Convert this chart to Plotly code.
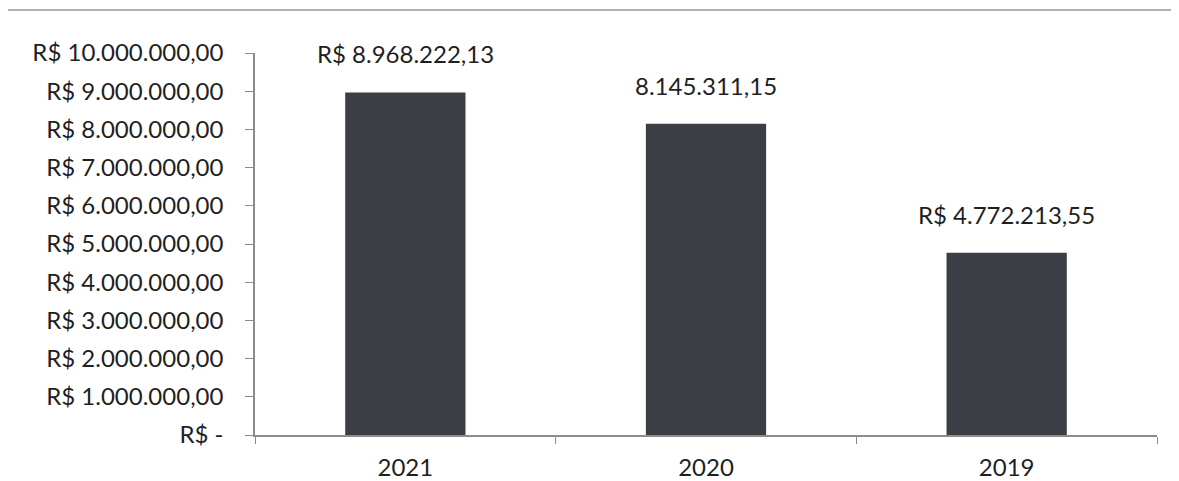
import plotly.graph_objects as go

anos = ["2021", "2020", "2019"]
valores = [8968222.13, 8145311.15, 4772213.55]
rotulos = ["R$ 8.968.222,13", "8.145.311,15", "R$ 4.772.213,55"]
tick_vals = [0, 1e6, 2e6, 3e6, 4e6, 5e6, 6e6, 7e6, 8e6, 9e6, 10e6]
tick_text = ["R$ -", "R$ 1.000.000,00", "R$ 2.000.000,00", "R$ 3.000.000,00",
             "R$ 4.000.000,00", "R$ 5.000.000,00", "R$ 6.000.000,00",
             "R$ 7.000.000,00", "R$ 8.000.000,00", "R$ 9.000.000,00",
             "R$ 10.000.000,00"]

FONT = "Lato"
TXT = "#1f1f1f"
SIZE = 24

fig = go.Figure(go.Bar(
    x=anos, y=valores,
    marker=dict(color="#3b3e45", line=dict(width=0)),
    width=0.4,
))

for i, (v, r) in enumerate(zip(valores, rotulos)):
    fig.add_annotation(x=i, y=v, xref="x", yref="y", text=r, showarrow=False,
                       yanchor="bottom", yshift=22,
                       font=dict(family=FONT, size=SIZE, color=TXT))

fig.update_layout(
    width=1179, height=481,
    margin=dict(l=247, r=30, t=45, b=54, autoexpand=False),
    paper_bgcolor="white", plot_bgcolor="white",
    showlegend=False,
    font=dict(family=FONT, size=SIZE, color=TXT),
    xaxis=dict(
        type="category", categoryorder="array", categoryarray=anos,
        range=[-0.5, len(anos) - 0.5],
        showline=True, linecolor="#8c8c8c", linewidth=1.5,
        ticks="outside", tickson="boundaries", ticklen=7, tickcolor="#8c8c8c",
        tickfont=dict(family=FONT, size=SIZE, color=TXT), showgrid=False,
        ticklabelstandoff=10, tickangle=0, automargin=False,
    ),
    yaxis=dict(
        range=[0, 10e6], tickvals=tick_vals, ticktext=tick_text,
        showline=True, linecolor="#8c8c8c", linewidth=1.5,
        ticks="outside", ticklen=8, tickcolor="#8c8c8c",
        tickfont=dict(family=FONT, size=SIZE, color=TXT),
        showgrid=False, zeroline=False, ticklabelstandoff=17, automargin=False,
    ),
    shapes=[
        dict(type="line", xref="paper", yref="paper", x0=-0.275, x1=-0.275,
             y0=-0.2, y1=1.1126, line=dict(color="#9a9a9a", width=1.5)),
        dict(type="line", xref="paper", yref="paper", x0=-0.275, x1=1.03,
             y0=1.1126, y1=1.1126, line=dict(color="#9a9a9a", width=1.5)),
    ],
)

fig.write_html("out.html")
